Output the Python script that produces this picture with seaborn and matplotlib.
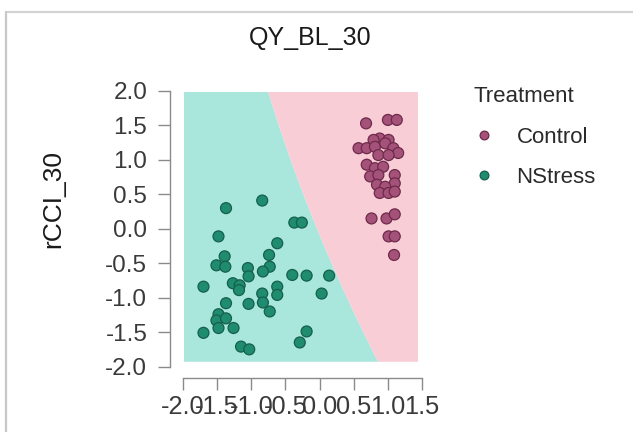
import numpy as np
import pandas as pd
import matplotlib
matplotlib.use("Agg")
import matplotlib.pyplot as plt
from matplotlib.lines import Line2D
import seaborn as sns

# Baseline chlorophyll index (rCCI_30) vs. quantum yield score per plant
control_x = [0.68, 1.00, 1.13, 0.88, 0.79, 1.01, 0.57, 0.69, 0.81, 0.96, 1.08,
             1.15, 0.86, 1.01, 0.69, 0.81, 0.93, 0.74, 0.86, 1.10, 1.10, 0.84,
             0.96, 0.88, 1.01, 1.10, 0.76, 0.98, 1.10, 1.01, 1.10, 1.09]
control_y = [1.53, 1.58, 1.58, 1.31, 1.29, 1.29, 1.17, 1.17, 1.19, 1.24, 1.17,
             1.10, 1.07, 1.07, 0.93, 0.88, 0.90, 0.76, 0.78, 0.78, 0.66, 0.64,
             0.61, 0.52, 0.52, 0.54, 0.15, 0.15, 0.21, -0.11, -0.11, -0.38]
nstress_x = [-0.84, -1.37, -0.37, -0.26, -1.48, -0.62, -0.74, -1.39, -1.51, -1.38,
             -0.73, -1.05, -0.83, -0.40, -0.19, 0.14, -1.04, -1.27, -1.17, -1.70,
             -0.62, -1.18, -0.84, -0.62, 0.03, -1.37, -1.04, -0.83, -0.73, -1.48,
             -1.51, -1.37, -1.48, -1.26, -1.70, -0.19, -0.29, -1.15, -1.03]
nstress_y = [0.41, 0.30, 0.09, 0.09, -0.11, -0.21, -0.38, -0.40, -0.53, -0.55,
             -0.55, -0.57, -0.62, -0.67, -0.68, -0.68, -0.69, -0.79, -0.82, -0.84,
             -0.84, -0.89, -0.94, -0.96, -0.94, -1.08, -1.09, -1.07, -1.20, -1.24,
             -1.33, -1.30, -1.44, -1.44, -1.51, -1.49, -1.65, -1.71, -1.75]
treatments = ["Control", "NStress"]

x_ticks = [-2.0, -1.5, -1.0, -0.5, 0.0, 0.5, 1.0, 1.5]
y_ticks = [-2.0, -1.5, -1.0, -0.5, 0.0, 0.5, 1.0, 1.5, 2.0]

# Classifier decision boundary: x = b0 + b1*y + b2*y^2
boundary_coef = [-0.037, -0.412, 0.0264]
grid_x_range = (-1.985, 1.44)
grid_y_range = (-1.93, 1.985)

point_fill = {"Control": "#a5527a", "NStress": "#1f8b6f"}
point_edge = {"Control": "#6e2a4a", "NStress": "#15604c"}
region_colors = ["#a9e6dc", "#f8cdd6"]

df = pd.DataFrame({
    "x": control_x + nstress_x,
    "y": control_y + nstress_y,
    "Treatment": [treatments[0]] * len(control_x) + [treatments[1]] * len(nstress_x),
})

sns.set_theme(style="white")
plt.rcParams["font.family"] = ["Liberation Sans", "DejaVu Sans"]
plt.rcParams["axes.unicode_minus"] = False

fig = plt.figure(figsize=(6.33, 4.32), dpi=100)
ax = fig.add_axes([170 / 633, 1 - 378.3 / 432, 258.9 / 633, 294.2 / 432])

# decision regions
gx = np.linspace(*grid_x_range, 500)
gy = np.linspace(*grid_y_range, 500)
GX, GY = np.meshgrid(gx, gy)
b0, b1, b2 = boundary_coef
decision = GX - (b0 + b1 * GY + b2 * GY ** 2)
ax.contourf(GX, GY, decision, levels=[-10, 0, 10], colors=region_colors,
            antialiased=True, zorder=0)

sns.scatterplot(data=df, x="x", y="y", hue="Treatment", hue_order=treatments,
                palette=point_fill, s=62, linewidth=0.9, ax=ax, zorder=3)
coll = ax.collections[-1]
coll.set_edgecolors([point_edge[t] for t in df["Treatment"]])

ax.set_xlim(-2.19, 1.6)
ax.set_ylim(-2.17, 2.1)
ax.set_xticks(x_ticks)
ax.set_xticklabels([f"{v:.1f}" for v in x_ticks])
ax.set_yticks(y_ticks)
ax.set_yticklabels([f"{v:.1f}" for v in y_ticks])
ax.set_xlabel("")
ax.set_ylabel("")
ax.set_facecolor("white")
for side in ["top", "right"]:
    ax.spines[side].set_visible(False)
for side in ["left", "bottom"]:
    ax.spines[side].set_color("#8a8a8a")
    ax.spines[side].set_linewidth(1.0)
ax.spines["left"].set_bounds(-2.0, 2.0)
ax.spines["bottom"].set_bounds(-2.0, 1.5)
ax.tick_params(axis="both", direction="out", length=8.8, width=1.0,
               color="#8a8a8a", labelcolor="#3a3a3a", left=True, bottom=True)
ax.tick_params(axis="y", pad=7.5, labelsize=17.5)
ax.tick_params(axis="x", pad=3.2, labelsize=18.3)

sns.move_legend(ax, loc="upper left", bbox_to_anchor=(462 / 633, 1 - 75 / 432),
                bbox_transform=fig.transFigure, frameon=False, title="Treatment",
                fontsize=16, title_fontsize=16, markerscale=0.8,
                handlelength=1.0, handletextpad=0.95, labelspacing=0.88,
                borderpad=0, alignment="left")
leg = ax.get_legend()
for h, t in zip(leg.legend_handles, treatments):
    h.set_markeredgecolor(point_edge[t])
for txt in leg.get_texts():
    txt.set_color("#2a2a2a")
leg.get_title().set_color("#2a2a2a")

fig.text(310 / 633, 1 - 38 / 432, "QY_BL_30", ha="center", va="center",
         fontsize=18, color="#1a1a1a")
fig.text(53 / 633, 1 - 199 / 432, "rCCI_30", ha="center", va="center",
         rotation=90, fontsize=19, color="#1a1a1a")

# panel frame
fig.add_artist(Line2D([6 / 633, 1], [1 - 12 / 432, 1 - 12 / 432],
                      transform=fig.transFigure, color="#d4d4d4", lw=1.6))
fig.add_artist(Line2D([6 / 633, 6 / 633], [0, 1 - 12 / 432],
                      transform=fig.transFigure, color="#c8c8c8", lw=1.6))

fig.savefig("out.png", dpi=100)
